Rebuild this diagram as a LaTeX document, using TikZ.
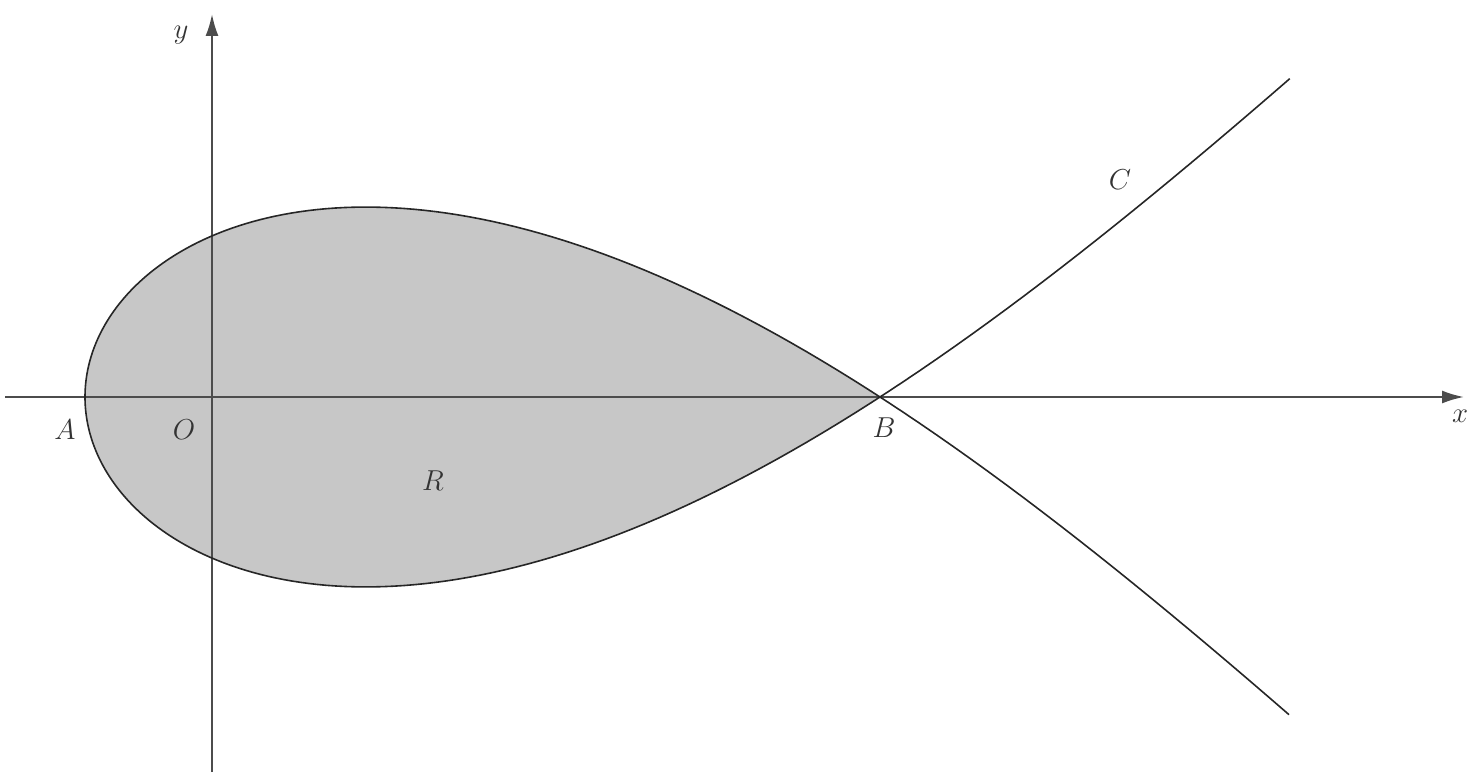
\documentclass[tikz,border=0pt]{standalone}
\usetikzlibrary{arrows.meta}
\begin{document}
\begin{tikzpicture}[x=0.5pt,y=-0.5pt,
  axis/.style={line width=1.1pt, draw=black!70, -{Latex[length=11pt,width=6.5pt]}},
  curveline/.style={line width=0.8pt, draw=black!85},
  lbl/.style={font=\fontsize{14.5}{17}\selectfont, text=black!80, inner sep=0pt}]
\useasboundingbox (0,0) rectangle (1475,780);
% shaded region R
\fill[black!22] plot[domain=-1:1, samples=160, variable=\t]
  ({85+795*\t*\t}, {397-(465+100*\t*\t-50*\t*\t*\t*\t)*\t*(1-\t*\t)}) -- cycle;
% axes
\coordinate (xs) at (5,397);
\coordinate (xe) at (1464,397);
\coordinate (ys) at (212,772);
\coordinate (ye) at (212,14);
\draw[axis] (xs) -- (xe);
\draw[axis] (ys) -- (ye);
% curve C
\draw[curveline] plot[domain=-1.231:1.233, samples=240, variable=\t]
  ({85+795*\t*\t}, {397-(465+100*\t*\t-50*\t*\t*\t*\t)*\t*(1-\t*\t)});
% labels
\node[lbl] (ly) at (181,35) {$y$};
\node[lbl] (lx) at (1460,416) {$x$};
\node[lbl] (lA) at (65,430) {$A$};
\node[lbl] (lO) at (184,430) {$O$};
\node[lbl] (lB) at (884,428) {$B$};
\node[lbl] (lC) at (1120,180) {$C$};
\node[lbl] (lR) at (433,481) {$R$};
\end{tikzpicture}
\end{document}
